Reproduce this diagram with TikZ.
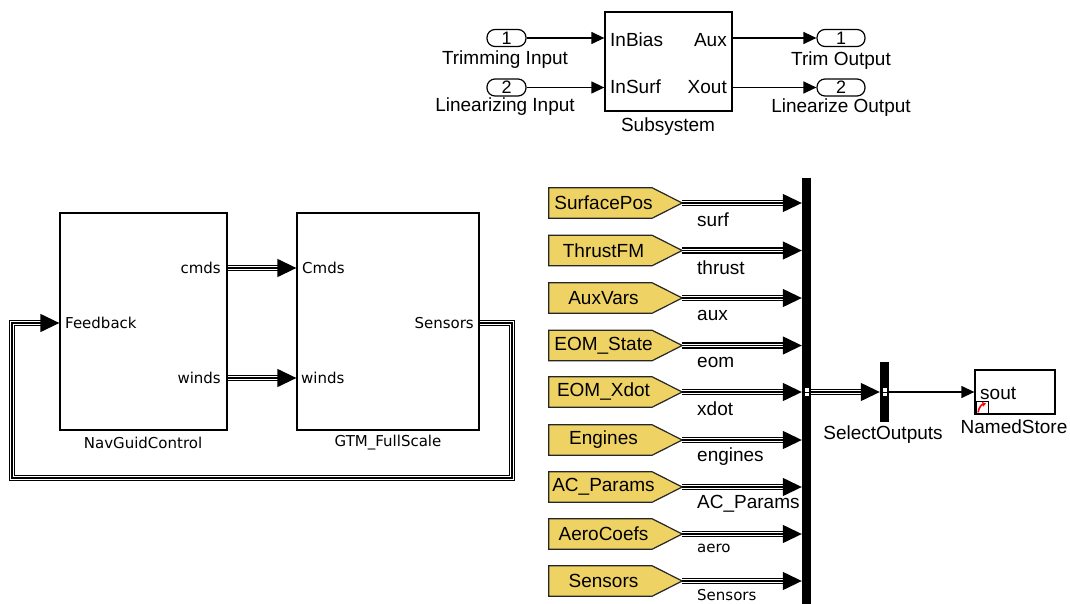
\documentclass[tikz,border=0pt]{standalone}
\usepackage{fontspec}
\setmainfont{Liberation Sans}
\newfontfamily\dvfont{DejaVu Sans}
\usetikzlibrary{arrows.meta,calc}
\definecolor{tagfill}{RGB}{238,210,100}
\tikzset{
  hv/.style={inner sep=0, font=\fontsize{19}{21}\selectfont},
  dv/.style={inner sep=0, font=\dvfont\fontsize{15}{17}\selectfont},
  dvs/.style={inner sep=0, font=\dvfont\fontsize{15}{17}\selectfont, yshift=3pt},
  blk/.style={draw, line width=1.3pt, inner sep=0, fill=white},
  iport/.style={draw, line width=1.2pt, rounded corners=8pt, minimum height=17pt, inner sep=0, font=\fontsize{18}{20}\selectfont},
  sig/.style={line width=1.3pt, -{Triangle[length=13pt,width=12pt]}},
  busA/.style={line width=6.5pt, shorten >=12pt},
  busB/.style={white, line width=3.9pt, shorten >=12pt},
  busC/.style={line width=1.3pt, -{Triangle[length=19pt,width=18pt]}},
  tagbox/.style={minimum width=103pt, minimum height=30pt, inner sep=0},
  tagshape/.style={fill=tagfill, draw=black!85, line width=1.2pt},
  bar/.style={fill=black, inner sep=0, minimum width=9pt},
  bportsq/.style={fill=white, draw=black, line width=0.6pt}
}
\newcommand{\busarrow}[1]{%
  \draw[busA] #1; \draw[busB] #1; \draw[busC] #1;}
\newcommand{\tagrow}[5]{%
  \node[tagbox] (#1) at (600.5,#2) {};
  \coordinate (#1tip) at ($(#1.east)+(30,0)$);
  \draw[tagshape] (#1.north west) -- (#1.north east) -- (#1tip) -- (#1.south east) -- (#1.south west) -- cycle;
  \node[hv] (#1txt) at ($(#1.center)+(3,0)$) {#3};
  \busarrow{(#1tip) -- (#1tip -| bus.west)}
  \node[#5, anchor=west] (#1lab) at (697,#2+17) {#4};}
\begin{document}
\begin{tikzpicture}[x=1pt,y=-1pt]
\useasboundingbox (0,0) rectangle (1070,604);

% ---------- top subsystem ----------
\node[blk, minimum width=127pt, minimum height=99pt] (sub) at (668.5,61.5) {};
\node[hv, anchor=west] (subin1) at (610,40) {InBias};
\node[hv, anchor=west] (subin2) at (610,87) {InSurf};
\node[hv, anchor=east] (subout1) at (727,40) {Aux};
\node[hv, anchor=east] (subout2) at (727,87) {Xout};
\node[hv] (sublab) at (668,127) {Subsystem};

\node[iport, minimum width=39pt] (in1) at (506.5,38) {1};
\node[iport, minimum width=39pt] (in2) at (506.5,87.5) {2};
\node[hv] (in1lab) at (505,60) {Trimming Input};
\node[hv] (in2lab) at (505,107) {Linearizing Input};

\node[iport, minimum width=48pt] (out1) at (841,38) {1};
\node[iport, minimum width=48pt] (out2) at (841,87.5) {2};
\node[hv] (out1lab) at (841,61) {Trim Output};
\node[hv] (out2lab) at (841,108) {Linearize Output};

\draw[sig] (in1.east) -- (in1.east -| sub.west);
\draw[sig] (in2.east) -- (in2.east -| sub.west);
\draw[sig] (out1.west -| sub.east) -- (out1.west);
\draw[sig] (out2.west -| sub.east) -- (out2.west);

% ---------- bottom left ----------
\node[blk, minimum width=167pt, minimum height=217pt] (nav) at (143.5,321.5) {};
\node[blk, minimum width=182pt, minimum height=217pt] (gtm) at (388,321.5) {};
\node[dv] (navlab) at (143,443) {NavGuidControl};
\node[dv] (gtmlab) at (388,443) {GTM\_FullScale};
\node[dv, anchor=east] (navcmds) at (221,268) {cmds};
\node[dv, anchor=east] (navwinds) at (221,378) {winds};
\node[dv, anchor=west] (navfb) at (65,323) {Feedback};
\node[dv, anchor=west] (gtmcmds) at (302,268) {Cmds};
\node[dv, anchor=west] (gtmwinds) at (301,378) {winds};
\node[dv, anchor=east] (gtmsens) at (474,323) {Sensors};
\coordinate (fbR) at (512,478);
\coordinate (fbL) at (12,478);

\busarrow{(navcmds -| nav.east) -- (navcmds -| gtm.west)}
\busarrow{(navwinds -| nav.east) -- (navwinds -| gtm.west)}
\busarrow{(gtmsens -| gtm.east) -| (fbR) -- (fbL) |- (navfb -| nav.west)}

% ---------- right: bus creator ----------
\node[bar, minimum height=426pt] (bus) at (806.5,391) {};
\tagrow{tSurf}{203}{SurfacePos}{surf}{hv}
\tagrow{tThrust}{250.5}{ThrustFM}{thrust}{hv}
\tagrow{tAux}{298}{AuxVars}{aux}{hv}
\tagrow{tEom}{345.5}{EOM\_State}{eom}{hv}
\tagrow{tXdot}{392}{EOM\_Xdot}{xdot}{hv}
\tagrow{tEng}{440}{Engines}{engines}{hv}
\tagrow{tAC}{487}{AC\_Params}{AC\_Params}{hv}
\tagrow{tAero}{534}{AeroCoefs}{aero}{dvs}
\tagrow{tSens}{581}{Sensors}{Sensors}{dvs}
\fill (bus.north west) rectangle (bus.south east);

% selector and store
\node[bar, minimum height=60pt] (sel) at (884.5,392) {};
\node[hv] (sellab) at (883,435) {SelectOutputs};
\node[draw, line width=1.3pt, inner sep=0, minimum width=80pt, minimum height=44pt] (store) at (1015,392) {};
\node[hv, anchor=west] (storetxt) at (980,393) {sout};
\node[hv] (storelab) at (1014,427) {NamedStore};
\node[draw, line width=0.8pt, inner sep=0, minimum width=12pt, minimum height=13pt] (storeicon) at (982,407.5) {};
\draw[red, line width=1.6pt, -{Triangle[length=3.5pt,width=4.5pt]}] ($(storeicon.south west)+(2.5,-2)$) to[bend left=35] ($(storeicon.center)+(4,-4)$);

\busarrow{(tXdot -| bus.east) -- (tXdot -| sel.west)}
\draw[sig] (sel.east) -- (store.west);

% bus port squares
\draw[bportsq] (804,387.5) rectangle (809,396.5);
\draw[line width=0.6pt] (804,392) -- (809,392);
\draw[bportsq] (882,387.5) rectangle (887,396.5);
\draw[line width=0.6pt] (882,392) -- (887,392);
\end{tikzpicture}
\end{document}
